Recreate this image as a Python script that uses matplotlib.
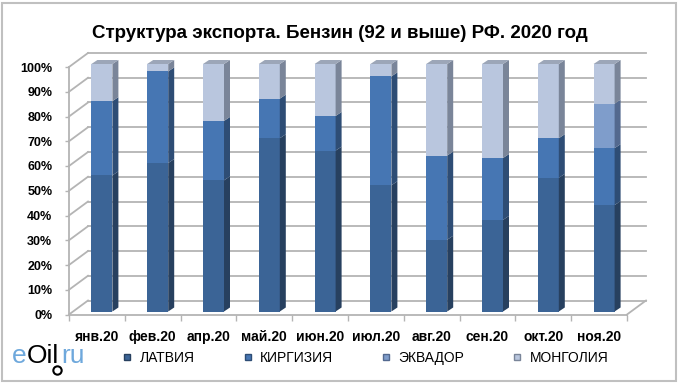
import matplotlib
matplotlib.use("Agg")
import matplotlib.pyplot as plt
import matplotlib.transforms as mtransforms
from matplotlib.patches import Polygon, Rectangle
from matplotlib.lines import Line2D

plt.rcParams['font.family'] = ['Liberation Sans', 'DejaVu Sans']

# Data (share of export, %)

months = ["янв.20", "фев.20", "апр.20", "май.20", "июн.20",
          "июл.20", "авг.20", "сен.20", "окт.20", "ноя.20"]
latvia   = [55, 60, 53, 70, 65, 51, 29, 37, 54, 43]
kirgizia = [30, 37, 24, 16, 14, 44, 34, 25, 16, 23]
ecuador  = [0, 0, 0, 0, 0, 0, 0, 0, 0, 18]
mongolia = [15, 3, 23, 14, 21, 5, 37, 38, 30, 16]
names = ["ЛАТВИЯ", "КИРГИЗИЯ", "ЭКВАДОР", "МОНГОЛИЯ"]
title = "Структура экспорта. Бензин (92 и выше) РФ. 2020 год"

# Style

front_col = ["#3b6496", "#4676b3", "#7f9dcb", "#b9c6de"]
side_col  = ["#27405f", "#2e4d75", "#53698f", "#7a8599"]
top_col   = ["#3f5f8a", "#4a6f9f", "#8497b8", "#9ca6b8"]
grid_col = "#b4b4b4"

W, H = 680, 384
PX_X = 55.8     # pixels per category
PX_Y = 2.475    # pixels per percent

def dx(p):
    return p / PX_X

def dy(p):
    return p / PX_Y

fig = plt.figure(figsize=(W / 100, H / 100), dpi=100)
ax = fig.add_axes([69 / W, (H - 314.5) / H, 558 / W, 247.5 / H])
ax.set_xlim(-0.5, 9.5)
ax.set_ylim(0, 100)
ax.set_frame_on(False)

# back wall, floor and grid (fake 3D)
bx, by = dx(19), dy(14)
for v in range(0, 101, 10):
    ax.plot([-0.5, -0.5 + bx], [v, v + by], color=grid_col, lw=1.3, clip_on=False, zorder=1)
    ax.plot([-0.5 + bx, 9.5 + bx], [v + by, v + by], color=grid_col, lw=1.3, clip_on=False, zorder=1)
ax.plot([-0.5, 9.5], [0, 0], color=grid_col, lw=1.3, clip_on=False, zorder=1)
ax.plot([9.5, 9.5 + bx], [0, by], color=grid_col, lw=1.3, clip_on=False, zorder=1)
ax.plot([-0.5, -0.5], [0, 100], color=grid_col, lw=1.3, clip_on=False, zorder=1)

# ticks
ax.set_yticks(range(0, 101, 10))
ax.set_yticklabels(["%d%%" % v for v in range(0, 101, 10)])
ax.tick_params(axis='y', length=3, width=1, color=grid_col, pad=9, labelsize=9)
ax.set_xticks(range(len(months)))
ax.set_xticklabels(months, fontweight='bold')
ax.set_xticks([i - 0.5 for i in range(len(months) + 1)], minor=True)
ax.tick_params(axis='x', which='major', length=0, pad=11, labelsize=10)
ax.tick_params(axis='x', which='minor', length=4, width=1, color=grid_col)
for lab in ax.get_yticklabels():
    lab.set_fontweight('bold')

# bars
trans = ax.transData + mtransforms.ScaledTranslation(5 / 100, 3 / 100, fig.dpi_scale_trans)
width = 21 / PX_X
ddx, ddy = dx(6), dy(4)
series = [latvia, kirgizia, ecuador, mongolia]
x = list(range(len(months)))
bottom = [0] * len(months)
for s, vals in enumerate(series):
    ax.bar(x, vals, width=width, bottom=bottom, color=front_col[s],
           transform=trans, zorder=3, clip_on=False, linewidth=0)
    for i in x:
        if vals[i] <= 0:
            continue
        xr = i + width / 2
        y0, y1 = bottom[i], bottom[i] + vals[i]
        ax.add_patch(Polygon([(xr, y0), (xr + ddx, y0 + ddy), (xr + ddx, y1 + ddy), (xr, y1)],
                             closed=True, fc=side_col[s], ec='none', transform=trans,
                             zorder=3, clip_on=False))
    bottom = [bottom[i] + vals[i] for i in x]

for i in x:
    xl, xr = i - width / 2, i + width / 2
    top = bottom[i]
    ax.add_patch(Polygon([(xl, top), (xl + ddx, top + ddy), (xr + ddx, top + ddy), (xr, top)],
                         closed=True, fc=top_col[3], ec='none', transform=trans,
                         zorder=3, clip_on=False))

# title
fig.text(340 / W, 1 - 33 / H, title, ha='center', va='center', fontsize=13.5, fontweight='bold')

# legend
handles = [Line2D([], [], marker='s', linestyle='none', markersize=5,
                  markerfacecolor=front_col[s], markeredgecolor=side_col[s]) for s in range(4)]
fig.legend(handles, names, loc='center', bbox_to_anchor=(365 / W, 1 - 358 / H), ncol=4,
           frameon=False, fontsize=10, handlelength=0.8, handletextpad=0.5, columnspacing=3.4)

# logo
t1 = fig.text(12 / W, 1 - 356 / H, "e", color="#6ea8dc", fontsize=19, va='center')
fig.canvas.draw()
r = fig.canvas.get_renderer()
e1 = t1.get_window_extent(r)
t2 = fig.text(e1.x1 / W, 1 - 356 / H, "Oil", color="black", fontsize=19, va='center')
e2 = t2.get_window_extent(r)
fig.text(e2.x1 / W + 0.003, 1 - 356 / H, "ru", color="#6ea8dc", fontsize=19, va='center')
fig.lines.append(Line2D([e2.x1 / W - 0.003], [1 - 370 / H], marker='o', markersize=6,
                        markerfacecolor='white', markeredgecolor='black', markeredgewidth=1.5,
                        color='black', transform=fig.transFigure))

# border
fig.patches.append(Rectangle((2 / W, 3 / H), 674 / W, 378 / H, transform=fig.transFigure,
                             fill=False, ec='#c0c0c0', lw=1.5))

fig.savefig("out.png", dpi=100)
